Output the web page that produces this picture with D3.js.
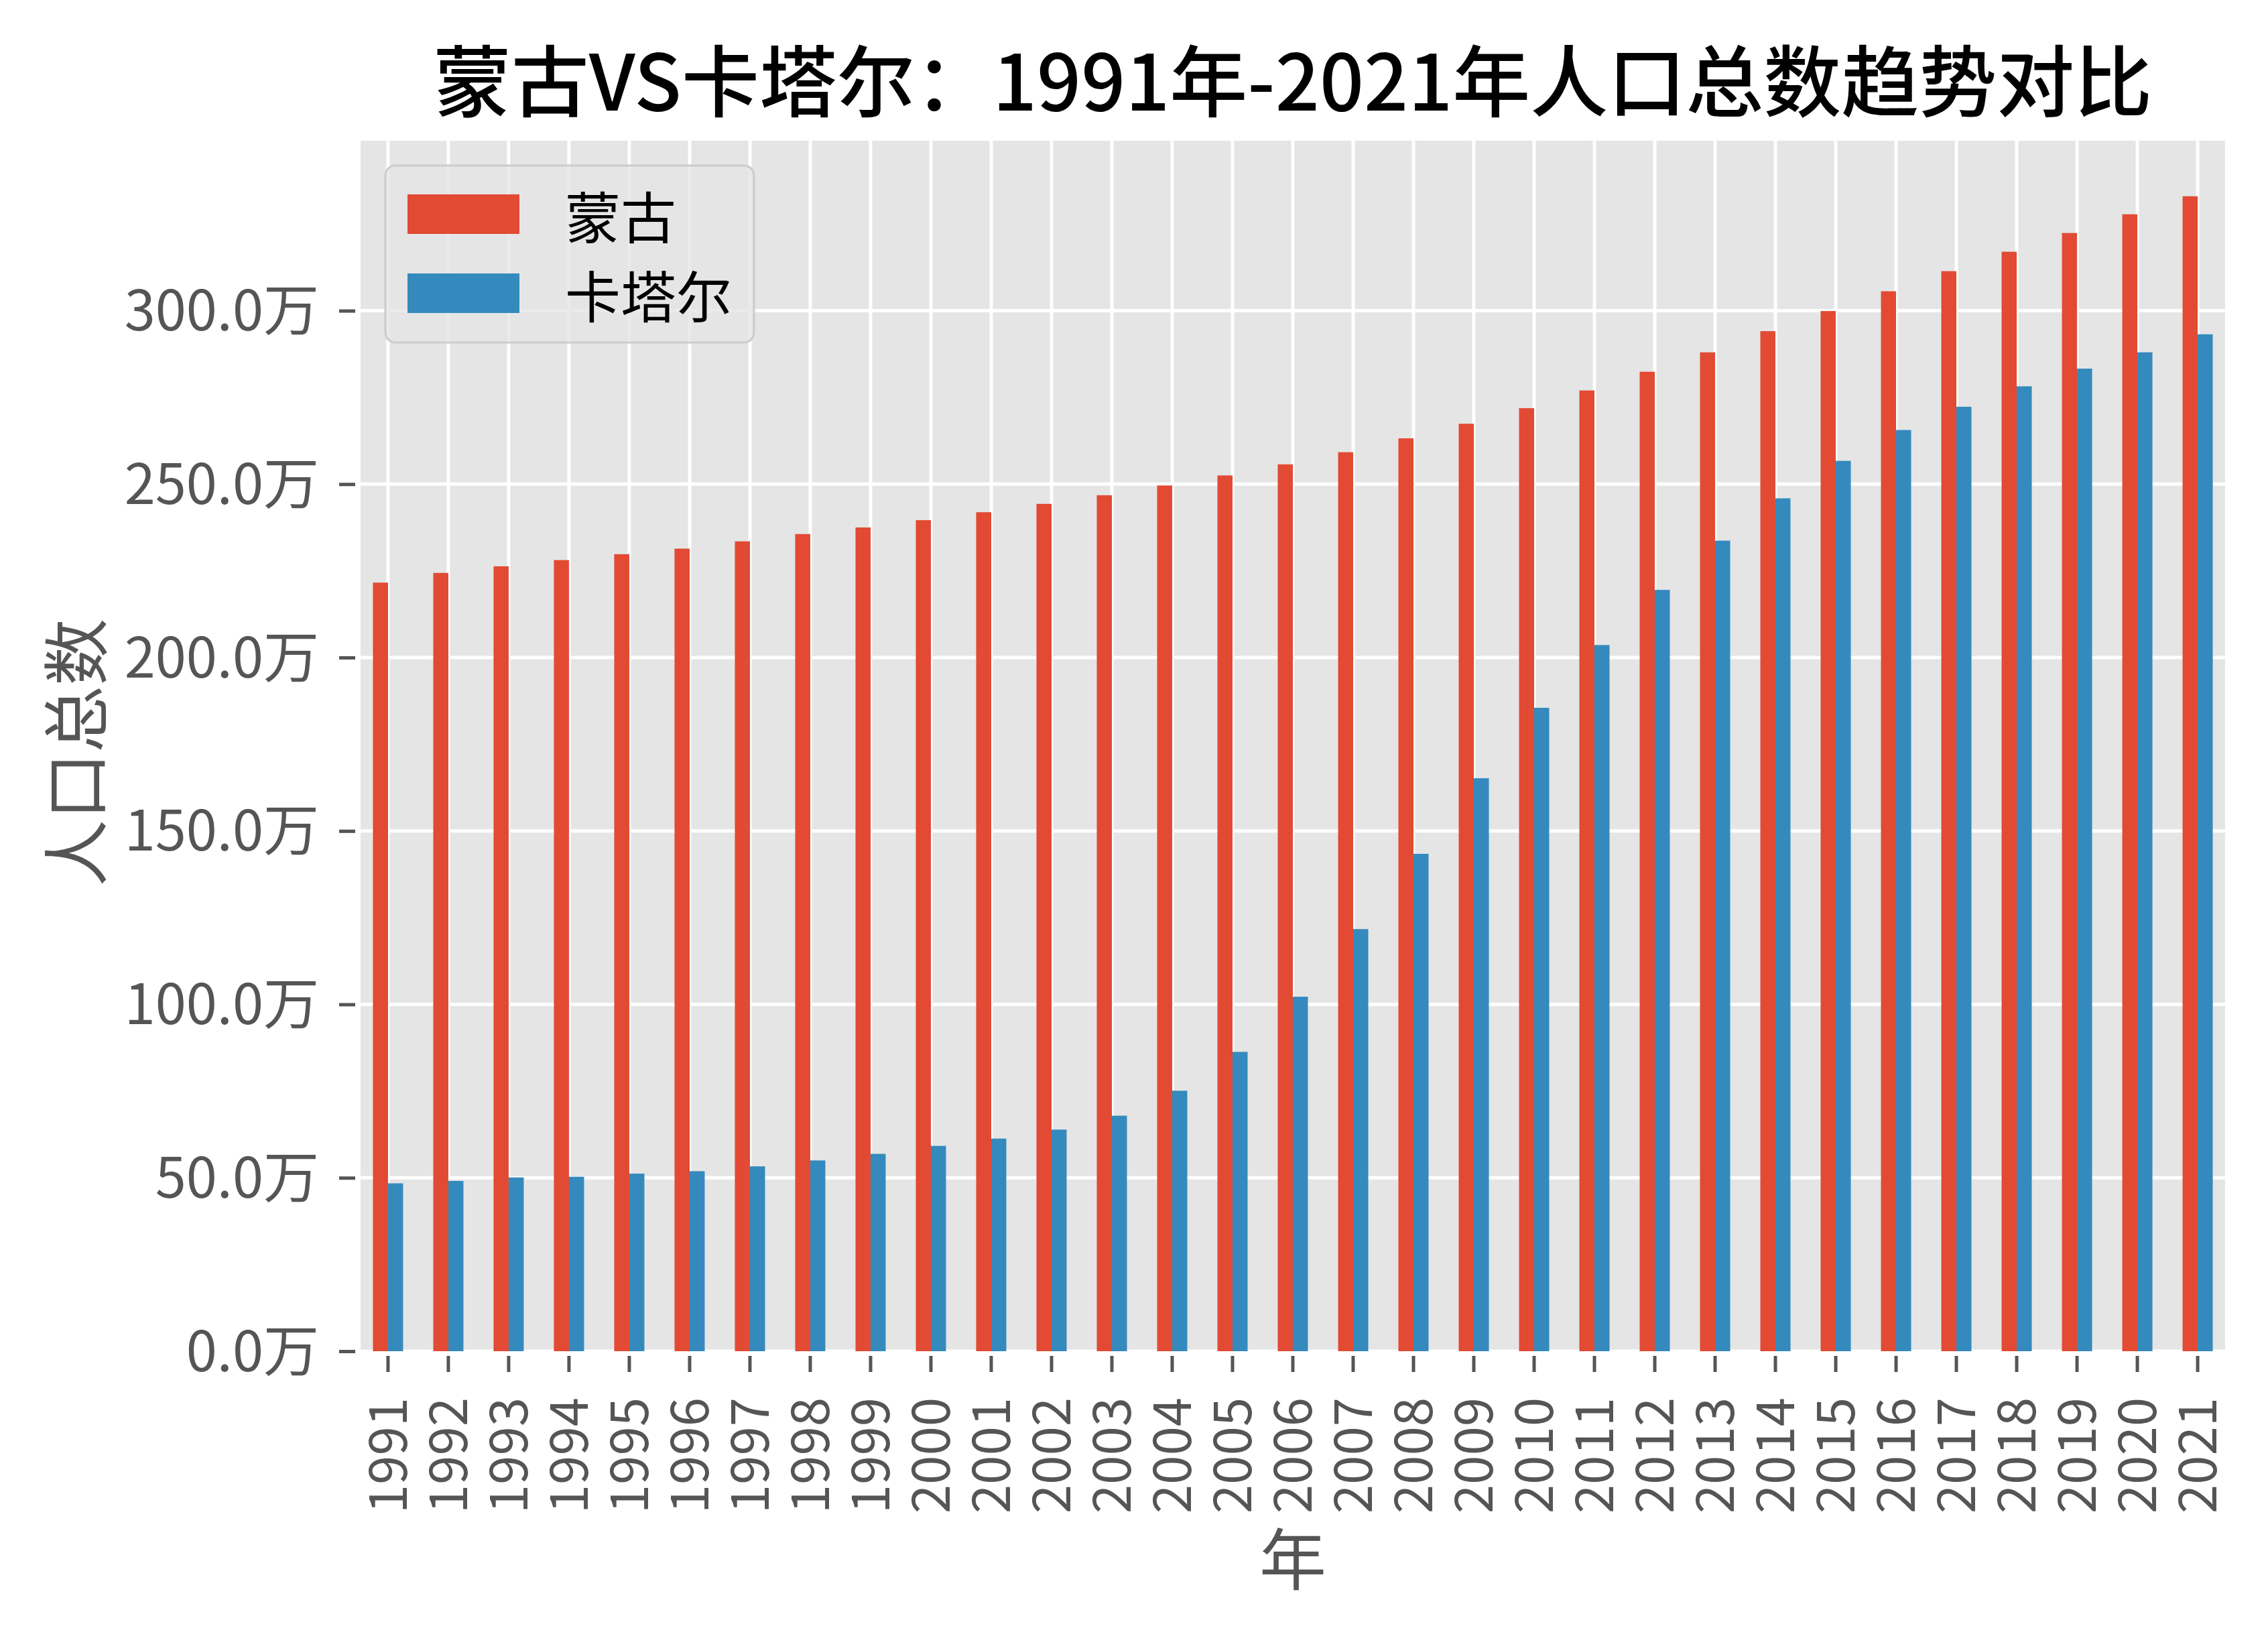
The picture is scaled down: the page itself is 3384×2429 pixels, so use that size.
<!DOCTYPE html>
<html>
<head>
<meta charset="utf-8">
<script src="https://cdn.jsdelivr.net/npm/d3@7"></script>
<style>
  body { margin: 0; background: #ffffff; }
  text { font-family: "Noto Sans CJK SC", "Noto Sans", sans-serif; }
</style>
</head>
<body>
<svg id="chart" width="3384" height="2429"></svg>
<script>
// ---------------- data ----------------
const years = [1991, 1992, 1993, 1994, 1995, 1996, 1997, 1998, 1999, 2000,
               2001, 2002, 2003, 2004, 2005, 2006, 2007, 2008, 2009, 2010,
               2011, 2012, 2013, 2014, 2015, 2016, 2017, 2018, 2019, 2020, 2021];
// population in 万 (10k)
const mongolia = [221.6, 224.4, 226.3, 228.1, 229.8, 231.4, 233.5, 235.6, 237.5, 239.6,
                  241.9, 244.3, 246.8, 249.6, 252.5, 255.7, 259.2, 263.2, 267.4, 271.9,
                  277.0, 282.4, 288.0, 294.1, 299.9, 305.6, 311.4, 317.0, 322.4, 327.8, 333.0];
const qatar = [48.4, 49.1, 50.1, 50.3, 51.2, 51.9, 53.3, 55.0, 56.9, 59.2,
               61.3, 63.9, 67.9, 75.1, 86.3, 102.2, 121.7, 143.4, 165.2, 185.5,
               203.6, 219.5, 233.7, 245.9, 256.7, 265.6, 272.3, 278.2, 283.3, 288.0, 293.2];
const seriesNames = ["蒙古", "卡塔尔"];
const seriesColors = ["#E24A33", "#348ABD"];
const yTickValues = [0, 50, 100, 150, 200, 250, 300];
const titleText = "蒙古VS卡塔尔：1991年-2021年人口总数趋势对比";
const xLabelText = "年";
const yLabelText = "人口总数";

// ---------------- layout ----------------
const plot = { left: 538, right: 3320, top: 210, bottom: 2016 };
const svg = d3.select("#chart");
svg.append("rect").attr("width", 3384).attr("height", 2429).attr("fill", "#ffffff");

const table = years.map((yr, i) => ({ year: yr, values: [mongolia[i], qatar[i]] }));

const x = d3.scaleBand()
  .domain(years)
  .range([plot.left, plot.right])
  .paddingInner(0.5)
  .paddingOuter(0.205);

const x1 = d3.scaleBand()
  .domain(seriesNames)
  .range([0, x.bandwidth()])
  .padding(0);

const y = d3.scaleLinear()
  .domain([0, 349])
  .range([plot.bottom, plot.top]);

// background
svg.append("rect")
  .attr("x", plot.left).attr("y", plot.top)
  .attr("width", plot.right - plot.left).attr("height", plot.bottom - plot.top)
  .attr("fill", "#E5E5E5");

// grid
const grid = svg.append("g");
grid.selectAll("line.h").data(yTickValues).enter().append("line")
  .attr("x1", plot.left).attr("x2", plot.right)
  .attr("y1", d => y(d)).attr("y2", d => y(d))
  .attr("stroke", "#ffffff").attr("stroke-width", 5);
grid.selectAll("line.v").data(years).enter().append("line")
  .attr("x1", d => x(d) + x.bandwidth() / 2).attr("x2", d => x(d) + x.bandwidth() / 2)
  .attr("y1", plot.top).attr("y2", plot.bottom)
  .attr("stroke", "#ffffff").attr("stroke-width", 5);

// bars
const groups = svg.append("g").selectAll("g").data(table).enter().append("g")
  .attr("transform", d => `translate(${x(d.year)},0)`);
groups.selectAll("rect").data(d => d.values.map((v, k) => ({ name: seriesNames[k], value: v, k })))
  .enter().append("rect")
  .attr("x", d => x1(d.name))
  .attr("width", x1.bandwidth())
  .attr("y", d => y(d.value))
  .attr("height", d => y(0) - y(d.value))
  .attr("fill", d => seriesColors[d.k]);

// y axis
const yAxis = d3.axisLeft(y)
  .tickValues(yTickValues)
  .tickFormat(d => d3.format(".1f")(d) + "万")
  .tickSize(24)
  .tickPadding(30);
const gy = svg.append("g").attr("transform", `translate(${plot.left - 8},0)`).call(yAxis);
gy.select(".domain").remove();
gy.selectAll(".tick line").attr("stroke", "#555555").attr("stroke-width", 5);
gy.selectAll(".tick text")
  .attr("fill", "#555555")
  .attr("font-size", 83)
  .attr("dy", "0.35em")
  .style("font-family", '"Noto Sans CJK SC", sans-serif');

// x axis
const xAxis = d3.axisBottom(x).tickSize(24).tickPadding(0);
const gx = svg.append("g").attr("transform", `translate(0,${plot.bottom + 7})`).call(xAxis);
gx.select(".domain").remove();
gx.selectAll(".tick line").attr("stroke", "#555555").attr("stroke-width", 5);
gx.selectAll(".tick text")
  .attr("fill", "#555555")
  .attr("font-size", 78)
  .attr("transform", "rotate(-90)")
  .attr("text-anchor", "end")
  .attr("x", -62)
  .attr("y", 0)
  .attr("dy", "0.36em")
  .style("font-family", '"Noto Sans CJK SC", sans-serif');

// axis labels
svg.append("text")
  .attr("transform", "translate(107,1123) rotate(-90)")
  .attr("text-anchor", "middle")
  .attr("dominant-baseline", "central")
  .attr("font-size", 100)
  .attr("fill", "#555555")
  .text(yLabelText);

svg.append("text")
  .attr("x", (plot.left + plot.right) / 2)
  .attr("y", 2320)
  .attr("text-anchor", "middle")
  .attr("dominant-baseline", "central")
  .attr("font-size", 100)
  .attr("fill", "#555555")
  .text(xLabelText);

// title
svg.append("text")
  .attr("x", (plot.left + plot.right) / 2)
  .attr("y", 114)
  .attr("text-anchor", "middle")
  .attr("dominant-baseline", "central")
  .attr("font-size", 116)
  .attr("font-weight", 500)
  .attr("fill", "#000000")
  .text(titleText);

// legend
const legend = svg.append("g");
legend.append("rect")
  .attr("x", 575).attr("y", 247).attr("width", 550).attr("height", 264)
  .attr("rx", 15).attr("ry", 15)
  .attr("fill", "#E5E5E5").attr("fill-opacity", 0.8)
  .attr("stroke", "#CCCCCC").attr("stroke-width", 3);
const items = legend.selectAll("g.item").data(seriesNames).enter().append("g")
  .attr("transform", (d, i) => `translate(0,${290 + i * 118})`);
items.append("rect")
  .attr("x", 608).attr("y", 0).attr("width", 167).attr("height", 59)
  .attr("fill", (d, i) => seriesColors[i]);
items.append("text")
  .attr("x", 843).attr("y", 29.5)
  .attr("dominant-baseline", "central")
  .attr("font-size", 83)
  .attr("fill", "#000000")
  .text(d => d);
</script>
</body>
</html>
